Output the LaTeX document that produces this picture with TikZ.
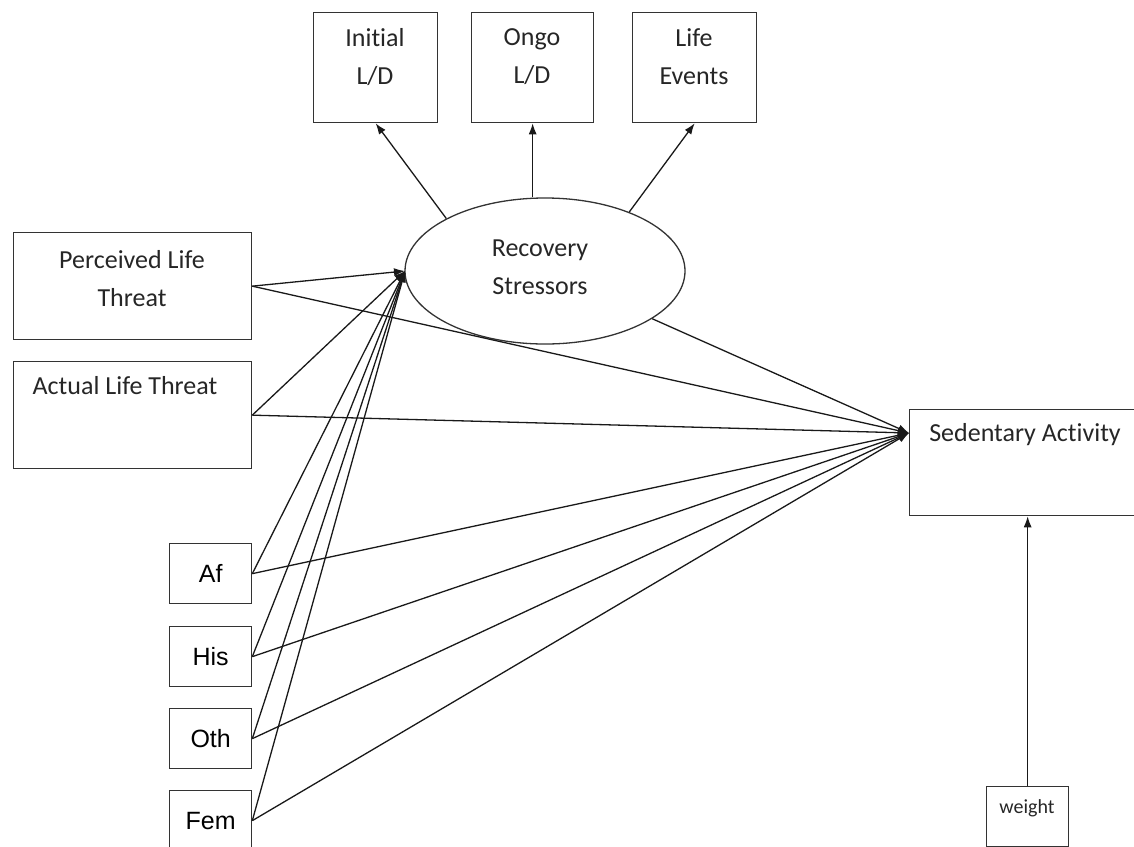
\documentclass[tikz,border=0pt]{standalone}
\usepackage{fontspec}
\setmainfont{Carlito}[Ligatures=NoCommon]
\newfontfamily\arialfont{Liberation Sans}
\usetikzlibrary{arrows.meta,shapes.geometric}
\begin{document}
\begin{tikzpicture}[x=1pt,y=-1pt,
  box/.style={draw=black!80, line width=1.3pt, inner sep=0pt, anchor=north west},
  lbl/.style={inner sep=0pt, align=center, anchor=north, text=black!85, font=\fontsize{26}{38}\selectfont},
  grp/.style={font=\arialfont\fontsize{25}{30}\selectfont},
  conn/.style={draw=black!90, line width=1.3pt, -{Latex[length=11pt,width=8pt]}},
]
\useasboundingbox (0,0) rectangle (1134,846);

% indicator boxes of the latent factor
\node[box, minimum width=124, minimum height=110] (ini) at (313,12) {};
\node[lbl] (iniT) at (375,28) {Initial\\L/D};
\node[box, minimum width=122, minimum height=110] (ong) at (471,12) {};
\node[lbl] (ongT) at (532,28) {Ongo\\L/D};
\node[box, minimum width=124, minimum height=110] (lev) at (632,12) {};
\node[lbl] (levT) at (694,28) {Life\\Events};

% latent factor
\node[draw=black!80, line width=1.3pt, ellipse, minimum width=280, minimum height=146, inner sep=0pt] (rs) at (545,271) {};
\node[lbl, anchor=center] (rsT) at (540,267) {Recovery\\Stressors};

% predictors
\node[box, minimum width=238, minimum height=107] (plt) at (13,232) {};
\node[lbl] (pltT) at (132,250) {Perceived Life\\Threat};
\node[box, minimum width=238, minimum height=107] (alt) at (13,361) {};
\node[lbl] (altT) at (125,376) {Actual Life Threat};

\node[box, grp, minimum width=82, minimum height=60] (af) at (169,543) {Af};
\node[box, grp, minimum width=82, minimum height=60] (his) at (169,626) {His};
\node[box, grp, minimum width=82, minimum height=60] (oth) at (169,708) {Oth};
\node[box, grp, minimum width=82, minimum height=60] (fem) at (169,790) {Fem};

% outcome and covariate
\node[box, minimum width=225, minimum height=106] (sed) at (909,409) {};
\node[lbl] (sedT) at (1025,423) {Sedentary Activity};
\node[box, minimum width=82, minimum height=60] (wgt) at (986,786) {};
\node[lbl, anchor=center, font=\fontsize{20}{24}\selectfont] (wgtT) at (1027,808) {weight};

\coordinate (sedin) at (909,433);
\coordinate (rsin) at (405,271);

% loadings
\draw[conn] (rs.152) -- (ini.south);
\draw[conn] (ong.south |- rs.north) -- (ong.south);
\draw[conn] (rs.35) -- (lev.south);

% paths into the latent factor
\foreach \s in {plt,alt,af,his,oth,fem} \draw[conn] (\s.east) -- (rsin);

% paths into the outcome
\foreach \s in {plt,alt,af,his,oth,fem} \draw[conn] (\s.east) -- (sedin);
\draw[conn] (rs.-24) -- (sedin);
\draw[conn] (wgt.north) -- (sed.south -| wgt.north);
\end{tikzpicture}
\end{document}
